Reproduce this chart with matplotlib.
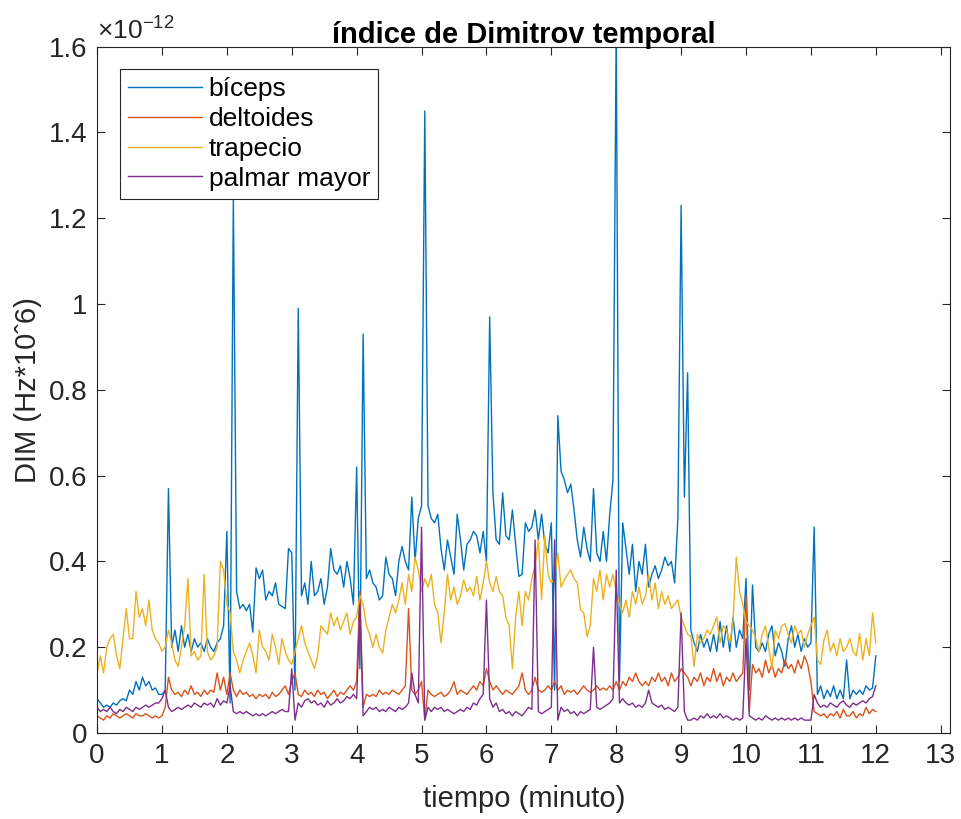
import numpy as np
import matplotlib
matplotlib.use("Agg")
import matplotlib.pyplot as plt
from matplotlib.ticker import FuncFormatter

# -----------------------------
# Data (DIM in units of 1e-12), one sample every 0.05 min
# -----------------------------
step = 0.05

biceps = [
    0.08, 0.07, 0.06, 0.065, 0.06, 0.07, 0.065, 0.075, 0.08, 0.075, 0.10, 0.09, 0.12, 0.10, 0.13, 0.11, 0.12, 0.10, 0.105, 0.09,
    0.09, 0.10, 0.57, 0.20, 0.24, 0.19, 0.25, 0.20, 0.23, 0.19, 0.22, 0.20, 0.21, 0.19, 0.22, 0.20, 0.19, 0.21, 0.22, 0.25,
    0.47, 0.07, 1.25, 0.33, 0.29, 0.30, 0.285, 0.30, 0.235, 0.385, 0.36, 0.38, 0.31, 0.33, 0.32, 0.35, 0.30, 0.295, 0.29, 0.43,
    0.42, 0.10, 0.99, 0.32, 0.35, 0.30, 0.40, 0.32, 0.33, 0.36, 0.30, 0.34, 0.43, 0.38, 0.37, 0.39, 0.34, 0.40, 0.36, 0.30,
    0.62, 0.15, 0.93, 0.36, 0.38, 0.35, 0.34, 0.31, 0.32, 0.41, 0.37, 0.36, 0.32, 0.40, 0.435, 0.40, 0.38, 0.55, 0.40, 0.50,
    0.53, 1.45, 0.53, 0.50, 0.49, 0.51, 0.43, 0.38, 0.45, 0.41, 0.37, 0.51, 0.45, 0.38, 0.44, 0.45, 0.47, 0.46, 0.42, 0.47,
    0.40, 0.97, 0.56, 0.45, 0.44, 0.56, 0.46, 0.45, 0.52, 0.44, 0.365, 0.37, 0.49, 0.47, 0.48, 0.52, 0.45, 0.51, 0.44, 0.42,
    0.49, 0.10, 0.74, 0.61, 0.59, 0.56, 0.58, 0.52, 0.45, 0.41, 0.48, 0.43, 0.40, 0.57, 0.42, 0.40, 0.47, 0.40, 0.51, 0.59,
    1.65, 0.12, 0.49, 0.43, 0.37, 0.44, 0.33, 0.40, 0.37, 0.44, 0.34, 0.37, 0.39, 0.36, 0.38, 0.41, 0.39, 0.40, 0.35, 0.50,
    1.23, 0.55, 0.84, 0.24, 0.21, 0.19, 0.23, 0.20, 0.22, 0.19, 0.23, 0.19, 0.26, 0.20, 0.25, 0.19, 0.27, 0.20, 0.24, 0.22,
    0.36, 0.10, 0.345, 0.20, 0.19, 0.21, 0.19, 0.23, 0.25, 0.18, 0.21, 0.19, 0.155, 0.22, 0.25, 0.20, 0.23, 0.19, 0.22, 0.20,
    0.21, 0.48, 0.09, 0.11, 0.08, 0.10, 0.085, 0.11, 0.08, 0.10, 0.08, 0.17, 0.08, 0.10, 0.09, 0.10, 0.09, 0.11, 0.10, 0.105,
    0.18,
]

deltoides = [
    0.04, 0.035, 0.03, 0.04, 0.035, 0.045, 0.04, 0.035, 0.04, 0.045, 0.04, 0.035, 0.045, 0.04, 0.04, 0.045, 0.04, 0.035, 0.04, 0.035,
    0.04, 0.06, 0.13, 0.10, 0.09, 0.095, 0.085, 0.10, 0.09, 0.11, 0.09, 0.095, 0.085, 0.10, 0.09, 0.10, 0.095, 0.14, 0.10, 0.13,
    0.09, 0.14, 0.10, 0.085, 0.10, 0.09, 0.095, 0.085, 0.09, 0.08, 0.09, 0.085, 0.09, 0.08, 0.095, 0.085, 0.09, 0.10, 0.11, 0.09,
    0.12, 0.14, 0.09, 0.085, 0.10, 0.09, 0.095, 0.085, 0.10, 0.09, 0.095, 0.08, 0.09, 0.10, 0.085, 0.095, 0.09, 0.10, 0.11, 0.10,
    0.12, 0.33, 0.06, 0.09, 0.085, 0.09, 0.085, 0.10, 0.09, 0.095, 0.09, 0.10, 0.095, 0.09, 0.10, 0.11, 0.29, 0.10, 0.09, 0.10,
    0.12, 0.03, 0.10, 0.09, 0.085, 0.09, 0.095, 0.085, 0.09, 0.10, 0.12, 0.09, 0.10, 0.095, 0.09, 0.10, 0.11, 0.10, 0.12, 0.11,
    0.15, 0.12, 0.10, 0.11, 0.10, 0.09, 0.10, 0.095, 0.09, 0.10, 0.11, 0.14, 0.10, 0.09, 0.10, 0.13, 0.10, 0.095, 0.10, 0.11,
    0.10, 0.12, 0.10, 0.11, 0.09, 0.10, 0.095, 0.10, 0.09, 0.10, 0.11, 0.10, 0.095, 0.10, 0.11, 0.10, 0.105, 0.10, 0.11, 0.10,
    0.12, 0.10, 0.12, 0.11, 0.13, 0.12, 0.14, 0.12, 0.11, 0.12, 0.11, 0.13, 0.12, 0.14, 0.12, 0.13, 0.11, 0.14, 0.12, 0.13,
    0.15, 0.14, 0.13, 0.11, 0.13, 0.12, 0.14, 0.11, 0.13, 0.12, 0.15, 0.12, 0.14, 0.11, 0.13, 0.12, 0.14, 0.12, 0.13, 0.14,
    0.32, 0.05, 0.16, 0.14, 0.15, 0.13, 0.17, 0.14, 0.16, 0.13, 0.15, 0.14, 0.17, 0.15, 0.16, 0.14, 0.17, 0.15, 0.18, 0.16,
    0.12, 0.05, 0.045, 0.04, 0.045, 0.035, 0.045, 0.04, 0.05, 0.035, 0.055, 0.04, 0.04, 0.05, 0.035, 0.045, 0.04, 0.06, 0.045, 0.055,
    0.05,
]

trapecio = [
    0.14, 0.18, 0.14, 0.20, 0.22, 0.23, 0.18, 0.15, 0.22, 0.29, 0.22, 0.22, 0.33, 0.27, 0.29, 0.25, 0.31, 0.24, 0.22, 0.21,
    0.19, 0.20, 0.24, 0.21, 0.17, 0.155, 0.20, 0.25, 0.36, 0.18, 0.19, 0.17, 0.18, 0.37, 0.19, 0.17, 0.18, 0.20, 0.40, 0.38,
    0.30, 0.28, 0.19, 0.17, 0.14, 0.17, 0.19, 0.21, 0.18, 0.14, 0.24, 0.20, 0.19, 0.17, 0.23, 0.20, 0.16, 0.22, 0.19, 0.17,
    0.16, 0.19, 0.22, 0.25, 0.21, 0.19, 0.17, 0.15, 0.18, 0.25, 0.24, 0.23, 0.28, 0.25, 0.27, 0.24, 0.26, 0.28, 0.23, 0.26,
    0.27, 0.32, 0.30, 0.25, 0.23, 0.20, 0.23, 0.20, 0.186, 0.24, 0.27, 0.30, 0.28, 0.31, 0.35, 0.30, 0.37, 0.33, 0.41, 0.38,
    0.33, 0.36, 0.34, 0.37, 0.30, 0.28, 0.21, 0.28, 0.37, 0.31, 0.34, 0.30, 0.32, 0.357, 0.33, 0.34, 0.32, 0.365, 0.31, 0.35,
    0.40, 0.35, 0.33, 0.365, 0.33, 0.32, 0.27, 0.25, 0.15, 0.27, 0.33, 0.25, 0.33, 0.31, 0.36, 0.39, 0.45, 0.31, 0.46, 0.37,
    0.35, 0.36, 0.42, 0.34, 0.357, 0.37, 0.38, 0.36, 0.35, 0.287, 0.28, 0.225, 0.25, 0.36, 0.33, 0.38, 0.31, 0.37, 0.34, 0.37,
    0.33, 0.30, 0.28, 0.31, 0.27, 0.33, 0.30, 0.34, 0.30, 0.32, 0.37, 0.31, 0.35, 0.29, 0.33, 0.30, 0.32, 0.29, 0.30, 0.31,
    0.27, 0.25, 0.23, 0.225, 0.155, 0.23, 0.21, 0.22, 0.24, 0.23, 0.25, 0.27, 0.21, 0.25, 0.24, 0.21, 0.26, 0.41, 0.33, 0.30,
    0.26, 0.25, 0.24, 0.22, 0.19, 0.23, 0.25, 0.20, 0.15, 0.24, 0.22, 0.25, 0.255, 0.23, 0.21, 0.25, 0.23, 0.24, 0.20, 0.23,
    0.25, 0.27, 0.17, 0.16, 0.217, 0.24, 0.19, 0.21, 0.18, 0.22, 0.19, 0.20, 0.22, 0.19, 0.18, 0.232, 0.17, 0.22, 0.18, 0.28,
    0.21,
]

palmar = [
    0.06, 0.05, 0.055, 0.05, 0.06, 0.05, 0.045, 0.055, 0.05, 0.06, 0.055, 0.05, 0.06, 0.055, 0.06, 0.065, 0.06, 0.065, 0.07, 0.07,
    0.08, 0.10, 0.06, 0.05, 0.055, 0.06, 0.055, 0.06, 0.065, 0.06, 0.07, 0.065, 0.06, 0.07, 0.065, 0.07, 0.06, 0.08, 0.065, 0.075,
    0.07, 0.11, 0.05, 0.045, 0.05, 0.045, 0.05, 0.045, 0.04, 0.045, 0.04, 0.045, 0.04, 0.045, 0.05, 0.045, 0.05, 0.055, 0.05, 0.05,
    0.15, 0.03, 0.07, 0.06, 0.075, 0.08, 0.07, 0.075, 0.065, 0.07, 0.06, 0.075, 0.065, 0.07, 0.08, 0.07, 0.075, 0.085, 0.08, 0.09,
    0.08, 0.30, 0.04, 0.05, 0.06, 0.055, 0.06, 0.05, 0.055, 0.05, 0.06, 0.055, 0.05, 0.06, 0.055, 0.06, 0.07, 0.14, 0.09, 0.07,
    0.48, 0.03, 0.06, 0.05, 0.06, 0.055, 0.06, 0.05, 0.055, 0.05, 0.045, 0.05, 0.055, 0.05, 0.06, 0.055, 0.07, 0.065, 0.08, 0.09,
    0.31, 0.08, 0.06, 0.07, 0.05, 0.055, 0.045, 0.05, 0.04, 0.05, 0.045, 0.04, 0.05, 0.06, 0.055, 0.45, 0.05, 0.045, 0.05, 0.055,
    0.06, 0.45, 0.03, 0.06, 0.05, 0.055, 0.045, 0.05, 0.04, 0.05, 0.045, 0.05, 0.055, 0.20, 0.06, 0.055, 0.06, 0.065, 0.07, 0.08,
    0.38, 0.07, 0.08, 0.07, 0.065, 0.07, 0.06, 0.065, 0.06, 0.07, 0.10, 0.07, 0.065, 0.06, 0.065, 0.055, 0.06, 0.055, 0.05, 0.06,
    0.28, 0.05, 0.03, 0.03, 0.035, 0.03, 0.04, 0.035, 0.045, 0.035, 0.04, 0.035, 0.045, 0.035, 0.04, 0.035, 0.03, 0.035, 0.03, 0.035,
    0.22, 0.04, 0.035, 0.03, 0.035, 0.03, 0.04, 0.035, 0.03, 0.035, 0.03, 0.035, 0.03, 0.035, 0.03, 0.035, 0.03, 0.035, 0.03, 0.03,
    0.03, 0.09, 0.07, 0.06, 0.065, 0.06, 0.07, 0.065, 0.06, 0.07, 0.075, 0.065, 0.06, 0.07, 0.065, 0.07, 0.075, 0.07, 0.08, 0.085,
    0.11,
]

series = [("bíceps", biceps, "#0072BD"),
          ("deltoides", deltoides, "#D95319"),
          ("trapecio", trapecio, "#EDB120"),
          ("palmar mayor", palmar, "#7E2F8E")]

# -----------------------------
# Plot
# -----------------------------
plt.rcParams['font.family'] = ['Liberation Sans', 'DejaVu Sans']
plt.rcParams['mathtext.fontset'] = 'custom'
plt.rcParams['mathtext.rm'] = 'Liberation Sans'

fig = plt.figure(figsize=(9.61, 8.19), dpi=100)
ax = fig.add_axes([0.101, 0.105, 0.888, 0.838])

for name, vals, col in series:
    t = np.arange(len(vals)) * step
    ax.plot(t, vals, color=col, lw=1.0, label=name)

ax.set_xlim(0, 13.15)
ax.set_ylim(0, 1.6)
ax.set_xticks(range(0, 14))
ax.set_yticks(np.arange(0, 1.61, 0.2))
ax.yaxis.set_major_formatter(FuncFormatter(lambda v, p: "%g" % round(v, 2)))

dark = "#262626"
for sp in ax.spines.values():
    sp.set_color(dark)
    sp.set_linewidth(0.8)
ax.tick_params(direction="in", top=True, right=True, length=6, width=0.8,
               colors=dark, labelsize=20, pad=7)

ax.text(0.0, 1.004, r"$\times10^{-12}$", transform=ax.transAxes,
        ha="left", va="bottom", fontsize=19, color=dark)
ax.set_title("índice de Dimitrov temporal", fontsize=21, fontweight="bold", pad=3)
ax.set_xlabel("tiempo (minuto)", fontsize=21, color=dark, labelpad=12)
ax.set_ylabel("DIM (Hz*10ˆ6)", fontsize=21, color=dark, labelpad=5)

leg = ax.legend(loc="upper left", bbox_to_anchor=(0.027, 0.967), fontsize=19,
                handlelength=2.8, fancybox=False, framealpha=1,
                edgecolor=dark, borderpad=0.3, labelspacing=0.22,
                handletextpad=0.25, borderaxespad=0)
leg.get_frame().set_linewidth(0.8)

fig.savefig("out.png", dpi=100)
